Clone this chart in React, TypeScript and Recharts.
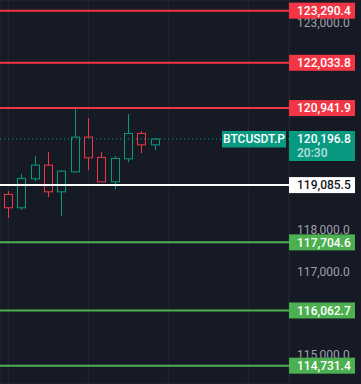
import React from 'react';
import { ComposedChart, Bar, XAxis, YAxis, CartesianGrid, ReferenceLine } from 'recharts';

const candleIndex = [0, 1, 2, 3, 4, 5, 6, 7, 8, 9, 10, 11];
const opens = [118861, 118538, 119237, 119567, 118923, 119405, 120242, 119753, 119164, 119719, 120331, 120056];
const highs = [118940, 119350, 119784, 119880, 119446, 120934, 120700, 119888, 119784, 120797, 120387, 120218];
const lows = [118297, 118489, 119181, 118796, 118338, 119395, 119446, 119158, 118988, 119639, 119856, 119929];
const closes = [118538, 119246, 119567, 118923, 119422, 120242, 119743, 119164, 119729, 120331, 120056, 120196.8];

const resistanceLevels = [123290.4, 122033.8, 120941.9];
const pivotLevels = [119085.5];
const supportLevels = [117704.6, 116062.7, 114731.4];
const lastPrice = 120196.8;
const symbolName = 'BTCUSDT.P';
const countdown = '20:30';
const priceTicks = [115000, 116000, 117000, 118000, 119000, 120000, 121000, 122000, 123000];
const timeGridTicks = [0, 6, 12, 18];

const BG = '#161A25';
const GRID = '#242834';
const RED = '#F23645';
const GREEN = '#089981';
const LGREEN = '#4CAF50';
const FONT = "Roboto, 'Liberation Sans', sans-serif";

const data = candleIndex.map((i, k) => ({
  i,
  range: [lows[k], highs[k]],
  open: opens[k],
  close: closes[k],
  high: highs[k],
  low: lows[k],
}));

const fmt = (v: number) => v.toLocaleString('en-US', { minimumFractionDigits: 1, maximumFractionDigits: 1 });

// a tick label is hidden (as in the price scale) when a price tag sits on top of it
const allLevels = [...resistanceLevels, ...pivotLevels, ...supportLevels];
const tickHidden = (v: number) =>
  allLevels.some((l) => Math.abs(l - v) < 150) || (v > lastPrice - 500 && v < lastPrice + 150);
const shownTicks = priceTicks.filter((v) => !tickHidden(v));

const Candle = (props: any) => {
  const { x, y, width, height, payload } = props;
  if (x == null || y == null) return null;
  const { open, close, high, low } = payload;
  const up = close >= open;
  const color = up ? GREEN : RED;
  const top = Math.min(y, y + height);
  const h = Math.abs(height);
  const k = h / (high - low);
  const cx = Math.round(x + width / 2) + 0.5;
  const bTop = top + (high - Math.max(open, close)) * k;
  const bBot = top + (high - Math.min(open, close)) * k;
  return (
    <g>
      <line x1={cx} x2={cx} y1={top} y2={bTop} stroke={color} strokeWidth={1} />
      <line x1={cx} x2={cx} y1={bBot} y2={top + h} stroke={color} strokeWidth={1} />
      <rect x={cx - 4} y={bTop} width={8} height={Math.max(bBot - bTop, 1)} fill={BG} stroke={color} strokeWidth={1} />
    </g>
  );
};

const TickTag = (props: any) => {
  const { viewBox, value } = props;
  if (!viewBox) return null;
  const left = viewBox.x + viewBox.width;
  return (
    <text x={left + 8} y={viewBox.y} dy="0.36em" textAnchor="start" fill="#9EA1AA" fontSize={12} fontFamily={FONT}>
      {fmt(value)}
    </text>
  );
};

const LevelTag = (props: any) => {
  const { viewBox, value, bg, fg } = props;
  if (!viewBox) return null;
  const left = viewBox.x + viewBox.width;
  const y = viewBox.y;
  return (
    <g>
      <rect x={left} y={y - 8} width={66} height={16} fill={bg} />
      <text x={left + 8} y={y} dy="0.36em" fill={fg} fontSize={12} fontFamily={FONT} fontWeight={500}>
        {fmt(value)}
      </text>
    </g>
  );
};

const LastTag = (props: any) => {
  const { viewBox } = props;
  if (!viewBox) return null;
  const left = viewBox.x + viewBox.width;
  const y = viewBox.y;
  return (
    <g>
      <rect x={left - 67} y={y - 8} width={64} height={16.5} fill={GREEN} />
      <text x={left - 35} y={y} dy="0.36em" textAnchor="middle" fill="#FFFFFF" fontSize={12} fontFamily={FONT} fontWeight={500}>
        {symbolName}
      </text>
      <rect x={left} y={y - 8} width={66} height={30} fill={GREEN} />
      <text x={left + 8} y={y} dy="0.36em" fill="#FFFFFF" fontSize={12} fontFamily={FONT} fontWeight={500}>
        {fmt(lastPrice)}
      </text>
      <text x={left + 8} y={y + 13.5} dy="0.36em" fill="rgba(255,255,255,0.72)" fontSize={12} fontFamily={FONT} fontWeight={500}>
        {countdown}
      </text>
    </g>
  );
};

export default function App() {
  return (
    <div style={{ position: 'absolute', left: 0, top: 0, width: 361, height: 384, background: BG }}>
      <ComposedChart width={361} height={384} data={data} margin={{ top: 0, right: 0, bottom: 0, left: 0 }}>
        <CartesianGrid stroke={GRID} strokeWidth={1} />
        <XAxis dataKey="i" type="number" domain={[-0.623, 21.06]} ticks={timeGridTicks} hide allowDataOverflow />
        <YAxis
          orientation="right"
          type="number"
          domain={[114290, 123548]}
          ticks={priceTicks}
          interval={0}
          width={72}
          axisLine={false}
          tickLine={false}
          tick={false}
          allowDataOverflow
        />
        <Bar dataKey="range" shape={<Candle />} barSize={9} isAnimationActive={false} />
        {shownTicks.map((v) => (
          <ReferenceLine key={'t' + v} y={v} stroke="none" strokeOpacity={0}
            label={(p: any) => <TickTag {...p} value={v} />} />
        ))}
        <ReferenceLine
          y={lastPrice}
          stroke={GREEN}
          strokeWidth={1}
          strokeDasharray="1 3"
          label={(p: any) => <LastTag {...p} />}
        />
        {resistanceLevels.map((v) => (
          <ReferenceLine key={'r' + v} y={v} stroke={RED} strokeWidth={2}
            label={(p: any) => <LevelTag {...p} value={v} bg={RED} fg="#FFFFFF" />} />
        ))}
        {pivotLevels.map((v) => (
          <ReferenceLine key={'p' + v} y={v} stroke="#FFFFFF" strokeWidth={2}
            label={(p: any) => <LevelTag {...p} value={v} bg="#FFFFFF" fg="#131722" />} />
        ))}
        {supportLevels.map((v) => (
          <ReferenceLine key={'s' + v} y={v} stroke={LGREEN} strokeWidth={2}
            label={(p: any) => <LevelTag {...p} value={v} bg={LGREEN} fg="#FFFFFF" />} />
        ))}
      </ComposedChart>
    </div>
  );
}
